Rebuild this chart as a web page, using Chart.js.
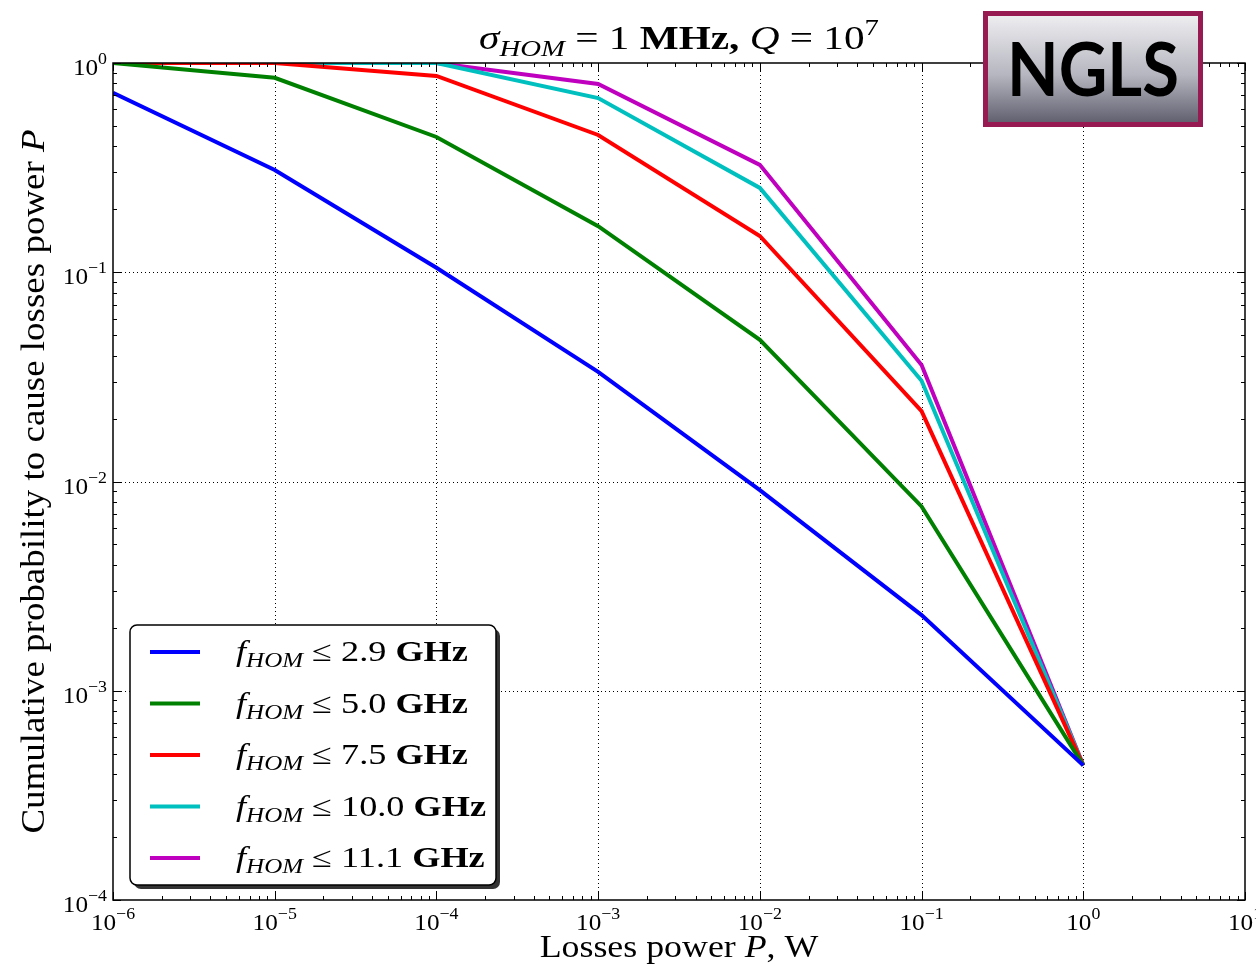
<!DOCTYPE html>
<html>
<head>
<meta charset="UTF-8">
<title>Cumulative probability vs losses power</title>
<script src="https://cdn.jsdelivr.net/npm/chart.js"></script>
<style>
  body { margin: 0; background: #fff; }
  #wrap { width: 1256px; height: 964px; position: relative; }
</style>
</head>
<body>
<div id="wrap"><canvas id="chart"></canvas></div>
<script>
// data
const powers = [1e-6, 1e-5, 1e-4, 1e-3, 1e-2, 1e-1, 1];
const probF29 = [0.72, 0.308, 0.105, 0.0334, 0.0091, 0.0023, 0.00044];
const probF50 = [1.0, 0.85, 0.443, 0.166, 0.0475, 0.0076, 0.00044];
const probF75 = [1.0, 1.0, 0.867, 0.453, 0.149, 0.0217, 0.00044];
const probF100 = [1.0, 1.0, 1.0, 0.68, 0.253, 0.0303, 0.00044];
const probF111 = [1.0, 1.0, 1.0, 0.794, 0.326, 0.036, 0.00044];
const freqLimits = ['2.9', '5.0', '7.5', '10.0', '11.1'];
const xTickExps = [-6, -5, -4, -3, -2, -1, 0, 1];
const yTickExps = [-4, -3, -2, -1, 0];

const allSeries = [probF29, probF50, probF75, probF100, probF111];
const lineColors = ['#0000ff', '#008000', '#ff0000', '#00bfbf', '#bf00bf'];
const serif = '"Liberation Serif", "DejaVu Serif", serif';

// text runs: {t, f (font), dy}; sx stretches horizontally (TeX fonts are wider)
function runsWidth(ctx, runs) {
  let w = 0;
  runs.forEach(r => { ctx.font = r.f; w += ctx.measureText(r.t).width; });
  return w;
}
function drawRuns(ctx, runs, x, y, align, sx) {
  sx = sx || 1;
  const w = runsWidth(ctx, runs) * sx;
  const x0 = align === 'center' ? x - w / 2 : align === 'right' ? x - w : x;
  ctx.save();
  ctx.translate(x0, y);
  ctx.scale(sx, 1);
  ctx.textAlign = 'left';
  ctx.textBaseline = 'alphabetic';
  let cx = 0;
  runs.forEach(r => {
    ctx.font = r.f;
    ctx.fillText(r.t, cx, r.dy || 0);
    cx += ctx.measureText(r.t).width;
  });
  ctx.restore();
}
function powRuns(exp) {
  const sup = exp < 0 ? '\u2212' + (-exp) : String(exp);
  return [{ t: '10', f: `24px ${serif}` }, { t: sup, f: `17px ${serif}`, dy: -11 }];
}

const decorPlugin = {
  id: 'decor',
  beforeDatasetsDraw(chart) {
    const { ctx, chartArea: a, scales: { x, y } } = chart;
    ctx.save();
    ctx.strokeStyle = '#000';
    ctx.lineWidth = 1;
    ctx.setLineDash([1, 3]);
    xTickExps.forEach(e => {
      const px = Math.round(x.getPixelForValue(Math.pow(10, e))) + 0.5;
      if (px <= a.left + 1 || px >= a.right - 1) return;
      ctx.beginPath(); ctx.moveTo(px, a.top); ctx.lineTo(px, a.bottom); ctx.stroke();
    });
    yTickExps.forEach(e => {
      const py = Math.round(y.getPixelForValue(Math.pow(10, e))) + 0.5;
      if (py <= a.top + 1 || py >= a.bottom - 1) return;
      ctx.beginPath(); ctx.moveTo(a.left, py); ctx.lineTo(a.right, py); ctx.stroke();
    });
    ctx.restore();
  },
  afterDatasetsDraw(chart) {
    const { ctx, chartArea: a, scales: { x, y } } = chart;
    ctx.save();
    // frame
    ctx.strokeStyle = '#000';
    ctx.lineWidth = 1.5;
    ctx.strokeRect(a.left, a.top, a.right - a.left, a.bottom - a.top);

    // inward ticks on all sides
    ctx.lineWidth = 1;
    const tick = (px, len, vertical) => {
      ctx.beginPath();
      if (vertical) {
        ctx.moveTo(px, a.bottom); ctx.lineTo(px, a.bottom - len);
        ctx.moveTo(px, a.top); ctx.lineTo(px, a.top + len);
      } else {
        ctx.moveTo(a.left, px); ctx.lineTo(a.left + len, px);
        ctx.moveTo(a.right, px); ctx.lineTo(a.right - len, px);
      }
      ctx.stroke();
    };
    xTickExps.forEach(e => {
      tick(Math.round(x.getPixelForValue(Math.pow(10, e))) + 0.5, 8, true);
      if (e < 1) for (let m = 2; m <= 9; m++) tick(Math.round(x.getPixelForValue(m * Math.pow(10, e))) + 0.5, 4, true);
    });
    yTickExps.forEach(e => {
      tick(Math.round(y.getPixelForValue(Math.pow(10, e))) + 0.5, 8, false);
      if (e < 0) for (let m = 2; m <= 9; m++) tick(Math.round(y.getPixelForValue(m * Math.pow(10, e))) + 0.5, 4, false);
    });

    // tick labels
    ctx.fillStyle = '#000';
    xTickExps.forEach(e => {
      drawRuns(ctx, powRuns(e), x.getPixelForValue(Math.pow(10, e)), a.bottom + 30, 'center', 1.05);
    });
    yTickExps.forEach(e => {
      drawRuns(ctx, powRuns(e), a.left - 6, y.getPixelForValue(Math.pow(10, e)) + 12, 'right', 1.05);
    });

    // axis titles
    drawRuns(ctx, [
      { t: 'Losses power ', f: `32px ${serif}` },
      { t: 'P', f: `italic 32px ${serif}` },
      { t: ', W', f: `32px ${serif}` }
    ], (a.left + a.right) / 2, 957, 'center', 1.12);
    ctx.save();
    ctx.translate(44, (a.top + a.bottom) / 2);
    ctx.rotate(-Math.PI / 2);
    drawRuns(ctx, [
      { t: 'Cumulative probability to cause losses power ', f: `33px ${serif}` },
      { t: 'P', f: `italic 33px ${serif}` }
    ], 0, 0, 'center', 1.12);
    ctx.restore();

    // title
    drawRuns(ctx, [
      { t: '\u03c3', f: `italic 33px ${serif}` },
      { t: 'HOM', f: `italic 23px ${serif}`, dy: 7 },
      { t: ' = 1 ', f: `33px ${serif}` },
      { t: 'MHz,', f: `bold 33px ${serif}` },
      { t: ' ', f: `33px ${serif}` },
      { t: 'Q', f: `italic 33px ${serif}` },
      { t: ' = 10', f: `33px ${serif}` },
      { t: '7', f: `23px ${serif}`, dy: -14 }
    ], 679, 49, 'center', 1.25);

    // legend box
    const lx = 130, ly = 625, lw = 366, lh = 260;
    ctx.fillStyle = '#333';
    ctx.beginPath(); ctx.roundRect(lx + 4, ly + 4, lw, lh, 7); ctx.fill();
    ctx.fillStyle = '#fff';
    ctx.strokeStyle = '#000';
    ctx.lineWidth = 1.5;
    ctx.beginPath(); ctx.roundRect(lx, ly, lw, lh, 7); ctx.fill(); ctx.stroke();
    freqLimits.forEach((f, i) => {
      const ry = 652 + i * 51.5;
      ctx.strokeStyle = lineColors[i];
      ctx.lineWidth = 4;
      ctx.beginPath(); ctx.moveTo(150, ry); ctx.lineTo(200, ry); ctx.stroke();
      ctx.fillStyle = '#000';
      drawRuns(ctx, [
        { t: 'f', f: `italic 29px ${serif}` },
        { t: 'HOM', f: `italic 20px ${serif}`, dy: 6 },
        { t: ' \u2264 ' + f + ' ', f: `29px ${serif}` },
        { t: 'GHz', f: `bold 29px ${serif}` }
      ], 236, ry + 9, 'left', 1.25);
    });

    // NGLS badge
    const bx = 983, by = 11, bw = 220, bh = 116;
    const g = ctx.createLinearGradient(0, by, 0, by + bh);
    g.addColorStop(0, '#f2f2f4');
    g.addColorStop(0.55, '#b6b6c0');
    g.addColorStop(1, '#585868');
    ctx.fillStyle = g;
    ctx.fillRect(bx, by, bw, bh);
    ctx.strokeStyle = '#981a52';
    ctx.lineWidth = 5;
    ctx.strokeRect(bx + 2.5, by + 2.5, bw - 5, bh - 5);
    ctx.fillStyle = '#000';
    ctx.font = `bold 74px Lato, "DejaVu Sans", sans-serif`;
    const tw = ctx.measureText('NGLS').width;
    ctx.save();
    ctx.translate(bx + bw / 2, by + 85);
    ctx.scale(172 / tw, 1);
    ctx.textAlign = 'center';
    ctx.textBaseline = 'alphabetic';
    ctx.fillText('NGLS', 0, 0);
    ctx.restore();

    ctx.restore();
  }
};

new Chart(document.getElementById('chart'), {
  type: 'line',
  data: {
    datasets: allSeries.map((vals, i) => ({
      label: 'f_HOM \u2264 ' + freqLimits[i] + ' GHz',
      data: powers.map((p, j) => ({ x: p, y: vals[j] })),
      borderColor: lineColors[i],
      borderWidth: 4,
      pointRadius: 0,
      tension: 0,
      fill: false
    }))
  },
  options: {
    responsive: true,
    maintainAspectRatio: false,
    animation: false,
    layout: { padding: { left: 113, right: 11, top: 63, bottom: 64 } },
    scales: {
      x: { type: 'logarithmic', min: 1e-6, max: 10, display: false },
      y: { type: 'logarithmic', min: 1e-4, max: 1, display: false }
    },
    plugins: { legend: { display: false }, tooltip: { enabled: false } }
  },
  plugins: [decorPlugin]
});
</script>
</body>
</html>
